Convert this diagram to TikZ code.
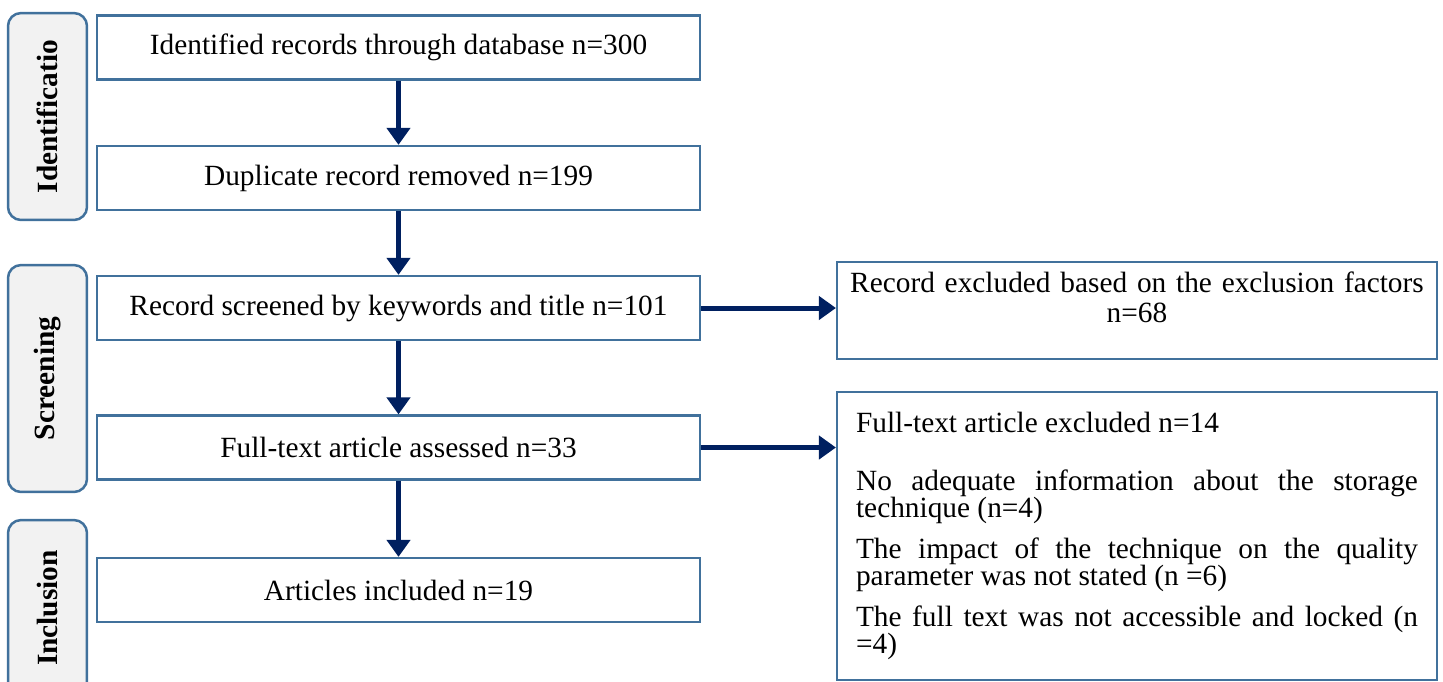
\documentclass[tikz,border=0pt]{standalone}
\usepackage{fontspec}
\setmainfont{Liberation Serif}
\usepackage{xcolor}
\usetikzlibrary{arrows.meta}
\definecolor{boxblue}{RGB}{65,113,156}
\definecolor{flownavy}{RGB}{0,32,96}
\definecolor{stagegray}{RGB}{242,242,242}

\begin{document}
\begin{tikzpicture}[x=0.02cm, y=-0.02cm,
  every node/.style={font=\fontsize{16.7}{15.4}\selectfont},
  stepbox/.style={draw=boxblue, line width=0.045cm, minimum width=12.06cm, minimum height=1.28cm, inner sep=0pt},
  stagebox/.style={draw=boxblue, fill=stagegray, line width=0.05cm, rounded corners=0.26cm,
    minimum height=1.58cm, inner sep=0pt, rotate=90, font=\fontsize{16.7}{15.4}\selectfont\bfseries},
  exclbox/.style={draw=boxblue, line width=0.045cm, minimum width=12cm, inner sep=0pt},
  flow/.style={draw=flownavy, line width=0.1cm, -{Triangle[length=0.34cm, width=0.46cm]}}] %%%{{{
  \useasboundingbox (0,0) rectangle (1443,681);
  \clip (0,0) rectangle (1443,681);
  \coordinate (S1) at (47.5,116.5);
  \coordinate (S2) at (47.5,378.5);
  \coordinate (S3) at (47.5,608);
  \coordinate (A) at (398.5,47.5);
  \coordinate (B) at (398.5,178);
  \coordinate (C) at (398.5,308);
  \coordinate (D) at (398.5,447.5);
  \coordinate (E) at (398.5,590);
  \coordinate (F) at (1137,310.5);
  \coordinate (G) at (1137,536);
  % stages
  \node[stagebox, minimum width=4.14cm] (ident) at (S1) {Identificatio};
  \node[stagebox, minimum width=4.54cm] (screen) at (S2) {Screening};
  \node[stagebox, minimum width=3.52cm] (incl) at (S3) {Inclusion};
  % main flow
  \node[stepbox] (found) at (A) {Identified records through database n=300};
  \node[stepbox] (dupl) at (B) {Duplicate record removed n=199};
  \node[stepbox] (screened) at (C) {Record screened by keywords and title n=101};
  \node[stepbox] (assessed) at (D) {Full-text article assessed n=33};
  \node[stepbox] (included) at (E) {Articles included n=19};
  % exclusions
  \node[exclbox, minimum height=1.94cm, text width=11.6cm, align=center] (excl) at (F)
    {Record excluded based on the exclusion factors\\[0.06cm]n=68\rule[-0.52cm]{0pt}{0.52cm}};
  \node[exclbox, minimum height=5.76cm, text width=11.24cm, align=justify] (fullexcl) at (G)
    {Full-text article excluded n=14\par\vspace{0.62cm}
     No adequate information about the storage\linebreak technique (n=4)\par\vspace{0.28cm}
     The impact of the technique on the quality\linebreak parameter was not stated (n =6)\par\vspace{0.28cm}
     The full text was not accessible and locked (n\linebreak =4)};
  \foreach \a/\b in {found/dupl,dupl/screened,screened/assessed,assessed/included}
    \draw[flow] (\a) -- (\b);
  \draw[flow] (screened.east) -- (screened.east -| excl.west);
  \draw[flow] (assessed.east) -- (assessed.east -| fullexcl.west);
\end{tikzpicture}
\end{document}
